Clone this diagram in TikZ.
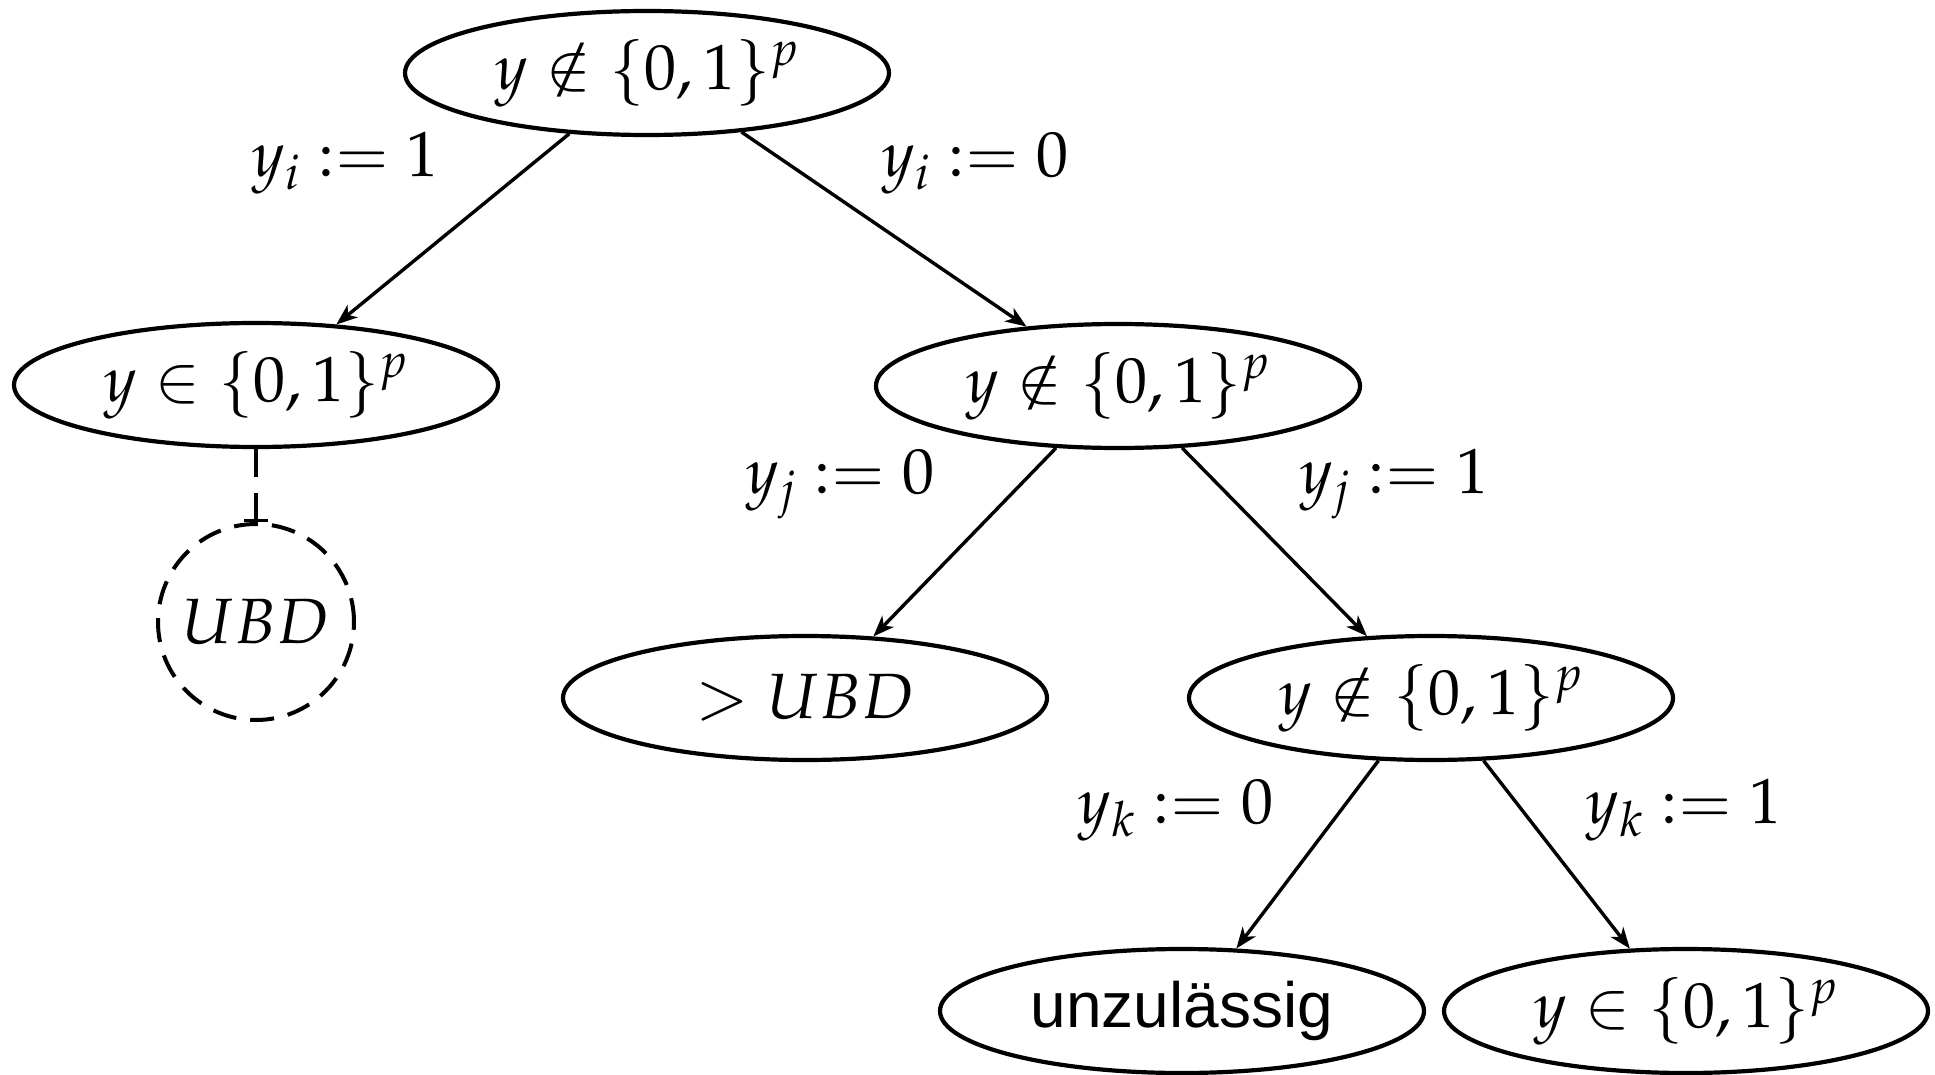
\documentclass[tikz,border=0pt]{standalone}
\usepackage{mathpazo}
\usepackage[no-math]{fontspec}
\newfontfamily\helv{Liberation Sans}
\usetikzlibrary{shapes.geometric,arrows.meta}
\begin{document}
\begin{tikzpicture}[x=1pt,y=-1pt,
  every node/.style={font=\fontsize{64}{76}\selectfont},
  state/.style={ellipse,draw,line width=4.2pt,minimum width=484pt,minimum height=124pt,inner sep=0pt},
  bound/.style={circle,draw,dash pattern=on 24pt off 14pt,line width=4pt,minimum size=196pt,inner sep=0pt},
  branch/.style={line width=3.4pt,-{Stealth[length=21pt,width=16pt,inset=6pt]}},
  lab/.style={anchor=base,inner sep=0pt},
]
\useasboundingbox (0,0) rectangle (1935,1075);

% branch-and-bound tree
\node[state] (n0) at (647,73)   {$y\notin\{0,1\}^p$};
\node[state] (n1) at (256,385)  {$y\in\{0,1\}^p$};
\node[state] (n2) at (1118,386) {$y\notin\{0,1\}^p$};
\node[bound] (ub) at (256,622)  {$UBD$};
\node[state] (n3) at (805,698)  {$>UBD$};
\node[state] (n4) at (1431,698) {$y\notin\{0,1\}^p$};
\node[state] (n5) at (1182,1011) {\helv unzulässig};
\node[state] (n6) at (1686,1011) {$y\in\{0,1\}^p$};

% branching edges
\draw[branch] (n0.218) -- (n1.37);
\draw[branch] (n0.328) -- (n2.147);
\draw[branch] (n2.225) -- (n3.42);
\draw[branch] (n2.316) -- (n4.136);
\draw[branch] (n4.230) -- (n5.49);
\draw[branch] (n4.310) -- (n6.132);
\draw[line width=4pt,dash pattern=on 28pt off 16pt,-{Bar[width=24pt,line width=3.4pt]}] (n1.south) -- (ub.north);

% branching labels
\node[lab] (l1) at (345,177)  {$y_i := 1$};
\node[lab] (l2) at (975,177)  {$y_i := 0$};
\node[lab] (l3) at (840,493)  {$y_j := 0$};
\node[lab] (l4) at (1394,493) {$y_j := 1$};
\node[lab] (l5) at (1176,823) {$y_k := 0$};
\node[lab] (l6) at (1684,823) {$y_k := 1$};
\end{tikzpicture}
\end{document}
